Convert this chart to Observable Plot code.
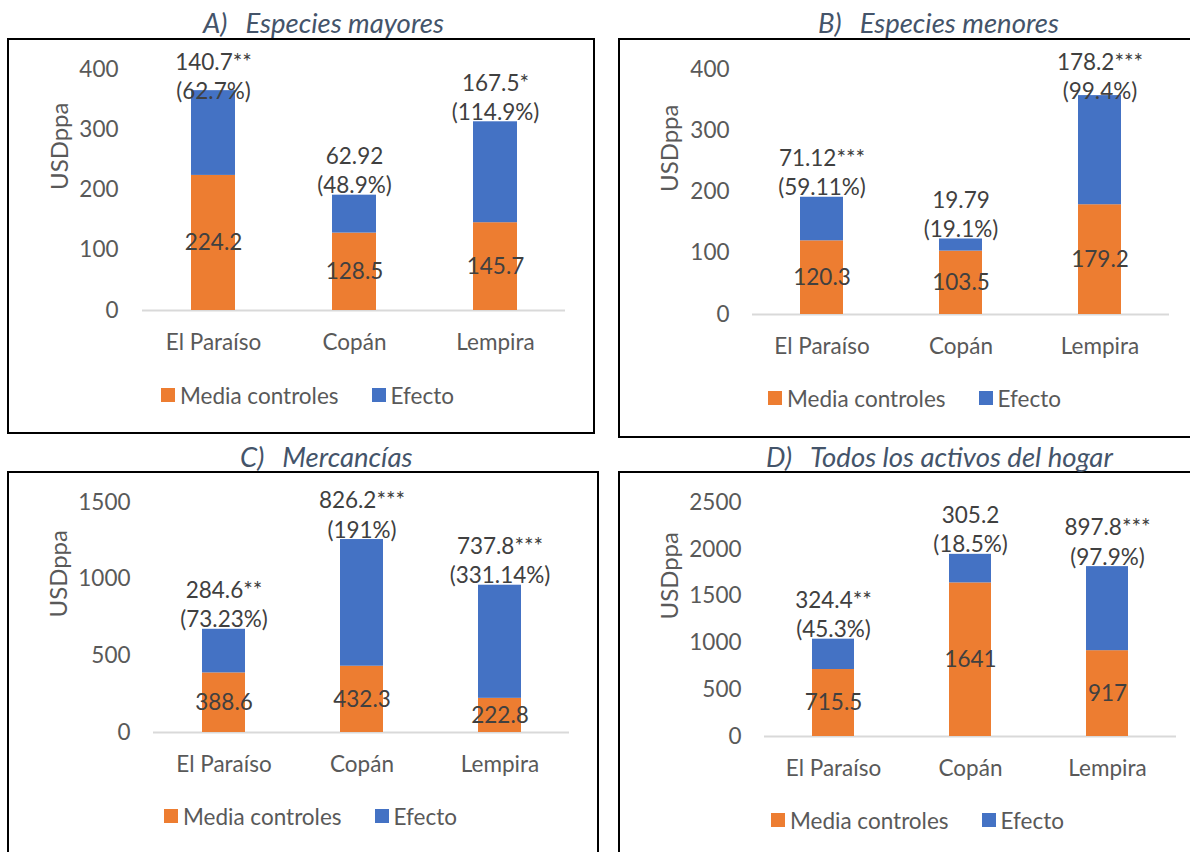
<!DOCTYPE html>
<html>
<head>
<meta charset="utf-8">
<script src="https://cdn.jsdelivr.net/npm/d3@7"></script>
<script src="https://cdn.jsdelivr.net/npm/@observablehq/plot@0.6"></script>
<style>
  html, body { margin: 0; padding: 0; background: #fff; }
  body { width: 1190px; height: 852px; overflow: hidden; position: relative; font-family: Lato, "Open Sans", sans-serif; }
  .frame { position: absolute; border: 2px solid #000; box-sizing: border-box; }
  .title { position: absolute; font-style: italic; font-size: 27.5px; color: #44546A; line-height: 1; white-space: nowrap; }
  .title .gap { display: inline-block; width: 18px; }
  .legend { position: absolute; display: flex; align-items: center; height: 28px; font-size: 22.5px; color: #595959; white-space: nowrap; }
  .legend .sw { display: inline-block; width: 14px; height: 14px; margin-right: 5px; }
  .legend .item2 { margin-left: 33px; display: flex; align-items: center; }
  .legend .item1 { display: flex; align-items: center; }
  .plot { position: absolute; }
</style>
</head>
<body>
<script>
// ---- shared ----
const regions = ["El Paraíso", "Copán", "Lempira"];
const seriesNames = ["Media controles", "Efecto"];
const seriesColors = ["#ED7D31", "#4472C4"];
const yLabel = "USDppa";

// ---- A) Especies mayores ----
const titleA = ["A)", "Especies mayores"];
const controlA = [224.2, 128.5, 145.7];
const effectA = [140.7, 62.92, 167.5];
const starsA = ["**", "", "*"];
const pctA = [62.7, 48.9, 114.9];
const ticksA = [0, 100, 200, 300, 400];

// ---- B) Especies menores ----
const titleB = ["B)", "Especies menores"];
const controlB = [120.3, 103.5, 179.2];
const effectB = [71.12, 19.79, 178.2];
const starsB = ["***", "", "***"];
const pctB = [59.11, 19.1, 99.4];
const ticksB = [0, 100, 200, 300, 400];

// ---- C) Mercancías ----
const titleC = ["C)", "Mercancías"];
const controlC = [388.6, 432.3, 222.8];
const effectC = [284.6, 826.2, 737.8];
const starsC = ["**", "***", "***"];
const pctC = [73.23, 191, 331.14];
const ticksC = [0, 500, 1000, 1500];

// ---- D) Todos los activos del hogar ----
const titleD = ["D)", "Todos los activos del hogar"];
const controlD = [715.5, 1641, 917];
const effectD = [324.4, 305.2, 897.8];
const starsD = ["**", "", "***"];
const pctD = [45.3, 18.5, 97.9];
const ticksD = [0, 500, 1000, 1500, 2000, 2500];

function addEl(tag, cls, styles, html) {
  const el = document.createElement(tag);
  if (cls) el.className = cls;
  Object.assign(el.style, styles);
  if (html !== undefined) el.innerHTML = html;
  document.body.appendChild(el);
  return el;
}

function panel(cfg) {
  const {control, effect, stars, pct, ticks, title, frame, svg, legend, titlePos} = cfg;
  addEl("div", "frame", {left: frame[0] + "px", top: frame[1] + "px", width: (frame[2] - frame[0]) + "px", height: (frame[3] - frame[1]) + "px"});
  addEl("div", "title", {left: titlePos[0] + "px", top: titlePos[1] + "px"},
    `${title[0]}<span class="gap"></span>${title[1]}`);
  const rows = [];
  regions.forEach((r, i) => {
    rows.push({region: r, series: seriesNames[0], value: control[i]});
    rows.push({region: r, series: seriesNames[1], value: effect[i]});
  });
  const ctrlRows = regions.map((r, i) => ({region: r, y: control[i] / 2, text: String(control[i])}));
  const yMax = ticks[ticks.length - 1];
  const effRows = regions.map((r, i) => ({
    region: r,
    y: Math.min(control[i] + effect[i], 0.87 * yMax),
    text: `${effect[i]}${stars[i]}\n(${pct[i]}%)`
  }));
  const chart = Plot.plot({
    width: svg.width,
    height: svg.height,
    marginLeft: svg.ml,
    marginRight: svg.mr,
    marginTop: svg.mt,
    marginBottom: svg.mb,
    style: {fontFamily: "Lato, 'Open Sans', sans-serif", fontSize: "22.5px", color: "#595959", background: "transparent", overflow: "visible"},
    x: {domain: regions, paddingInner: 0.69, paddingOuter: 0.345, axis: null},
    y: {domain: [0, yMax], axis: null},
    color: {domain: seriesNames, range: seriesColors},
    marks: [
      Plot.ruleY([0], {stroke: "#D9D9D9", strokeWidth: 2}),
      Plot.barY(rows, {x: "region", y: "value", fill: "series"}),
      Plot.axisY({ticks: ticks, tickSize: 0, tickPadding: svg.tp, label: null, color: "#595959", tickFormat: d => String(d)}),
      Plot.axisX({tickSize: 0, tickPadding: 24, label: null, color: "#595959"}),
      Plot.text(ctrlRows, {x: "region", y: "y", text: "text", fill: "#404040"}),
      Plot.text(effRows, {x: "region", y: "y", text: "text", fill: "#404040", lineHeight: 1.3, dy: -26}),
      Plot.text([yLabel], {frameAnchor: "left", rotate: -90, dx: svg.labelX - svg.ml, fill: "#595959", fontSize: 24})
    ]
  });
  chart.classList.add("plot");
  chart.style.left = svg.left + "px";
  chart.style.top = svg.top + "px";
  chart.style.position = "absolute";
  document.body.appendChild(chart);
  const lg = addEl("div", "legend", {left: legend[0] + "px", top: (legend[1] - 14) + "px"});
  lg.innerHTML =
    `<span class="item1"><span class="sw" style="background:${seriesColors[0]}"></span>${seriesNames[0]}</span>` +
    `<span class="item2"><span class="sw" style="background:${seriesColors[1]}"></span>${seriesNames[1]}</span>`;
}

panel({
  control: controlA, effect: effectA, stars: starsA, pct: pctA, ticks: ticksA, title: titleA,
  frame: [7, 38, 595, 434],
  titlePos: [203, 9],
  svg: {left: 9, top: 40, width: 583, height: 330, ml: 133, mr: 27, mt: 29, mb: 60, tp: 24, labelX: 51},
  legend: [161, 395]
});
panel({
  control: controlB, effect: effectB, stars: starsB, pct: pctB, ticks: ticksB, title: titleB,
  frame: [618, 38, 1200, 438],
  titlePos: [818, 9],
  svg: {left: 620, top: 40, width: 560, height: 330, ml: 132, mr: 11, mt: 29, mb: 56, tp: 23, labelX: 50},
  legend: [768, 398]
});
panel({
  control: controlC, effect: effectC, stars: starsC, pct: pctC, ticks: ticksC, title: titleC,
  frame: [7, 471, 599, 900],
  titlePos: [240, 443],
  svg: {left: 9, top: 473, width: 587, height: 320, ml: 144, mr: 27, mt: 29, mb: 61, tp: 23, labelX: 50},
  legend: [164, 816]
});
panel({
  control: controlD, effect: effectD, stars: starsD, pct: pctD, ticks: ticksD, title: titleD,
  frame: [618, 471, 1200, 900],
  titlePos: [766, 443],
  svg: {left: 620, top: 473, width: 570, height: 320, ml: 144, mr: 14, mt: 29, mb: 57, tp: 23, labelX: 50},
  legend: [771, 820]
});
</script>
</body>
</html>
